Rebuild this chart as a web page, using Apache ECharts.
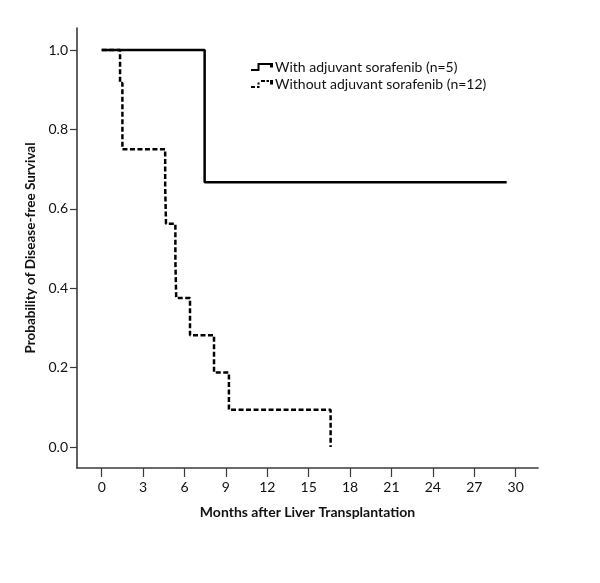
<!DOCTYPE html>
<html>
<head>
<meta charset="utf-8">
<script src="https://cdn.jsdelivr.net/npm/echarts@6/dist/echarts.min.js"></script>
<style>
html,body{margin:0;padding:0;background:#fff;}
#chart{width:600px;height:583px;}
</style>
</head>
<body>
<div id="chart"></div>
<script>
// Data
const seriesNames = ['With adjuvant sorafenib (n=5)', 'Without adjuvant sorafenib (n=12)'];
const withMonths = [0, 7.46, 29.35];
const withSurvival = [1.0, 0.6667, 0.6667];
const withoutMonths = [0, 1.33, 1.50, 4.60, 4.66, 5.34, 5.40, 6.40, 8.14, 9.22, 16.59];
const withoutSurvival = [1.0, 0.9167, 0.75, 0.65625, 0.5625, 0.46875, 0.375, 0.28125, 0.1875, 0.09375, 0.0];
const xTicks = [0, 3, 6, 9, 12, 15, 18, 21, 24, 27, 30];
const yTicks = [0, 0.2, 0.4, 0.6, 0.8, 1.0];
const xTitle = 'Months after Liver Transplantation';
const yTitle = 'Probability of Disease-free Survival';

const pair = (xs, ys) => xs.map((x, i) => [x, ys[i]]);
const FONT = 'Lato';
const axisColor = '#3a3a3a';

const iconSolid = 'path://M0,6L8,6L8,8L0,8Z M6.5,0L8.5,0L8.5,8L6.5,8Z M6.5,0L20,0L20,2L6.5,2Z M19,0L22,0L22,4.5L19,4.5Z';
const iconDash = 'path://M0,6L4,6L4,8L0,8Z M6,6L8.5,6L8.5,8L6,8Z M6.5,2.5L8.5,2.5L8.5,4.5L6.5,4.5Z M10,0L14,0L14,2L10,2Z M15.5,0L18,0L18,2L15.5,2Z M19,0L22,0L22,4.5L19,4.5Z';

const chart = echarts.init(document.getElementById('chart'), null, {renderer: 'canvas'});
chart.setOption({
  animation: false,
  backgroundColor: '#fff',
  grid: {left: 77, top: 28, width: 461, height: 440, containLabel: false},
  legend: {
    orient: 'vertical',
    left: 251,
    top: 60,
    padding: 0,
    itemWidth: 22,
    itemHeight: 8,
    itemGap: 3,
    selectedMode: false,
    itemStyle: {borderWidth: 0},
    textStyle: {fontFamily: FONT, fontSize: 14, lineHeight: 14, color: '#111', padding: [0, 0, 0, -3]},
    data: [
      {name: seriesNames[0], icon: iconSolid},
      {name: seriesNames[1], icon: iconDash}
    ]
  },
  xAxis: {
    type: 'value',
    min: -1.79,
    max: 31.62,
    name: xTitle,
    nameLocation: 'middle',
    nameGap: 37,
    nameTextStyle: {fontFamily: FONT, fontSize: 14, fontWeight: 'bold', color: '#111'},
    axisLine: {show: true, onZero: false, lineStyle: {color: axisColor, width: 1.6}},
    axisTick: {show: true, length: 9, customValues: xTicks, lineStyle: {color: axisColor, width: 1.2}},
    axisLabel: {customValues: xTicks, margin: 12, fontFamily: FONT, fontSize: 14, color: '#111'},
    splitLine: {show: false}
  },
  yAxis: {
    type: 'value',
    min: -0.0529,
    max: 1.0554,
    name: yTitle,
    nameLocation: 'middle',
    nameRotate: 90,
    nameGap: 34,
    nameTextStyle: {fontFamily: FONT, fontSize: 13.5, fontWeight: 'bold', color: '#111'},
    axisLine: {show: true, onZero: false, lineStyle: {color: axisColor, width: 1.6}},
    axisTick: {show: true, length: 7, customValues: yTicks, lineStyle: {color: axisColor, width: 1.2}},
    axisLabel: {customValues: yTicks, margin: 9, fontFamily: FONT, fontSize: 14, color: '#111',
      formatter: v => v.toFixed(1)},
    splitLine: {show: false}
  },
  series: [
    {
      name: seriesNames[0],
      type: 'line',
      step: 'end',
      showSymbol: false,
      data: pair(withMonths, withSurvival),
      itemStyle: {color: '#000'},
      lineStyle: {color: '#000', width: 2.5, type: 'solid'},
      z: 3
    },
    {
      name: seriesNames[1],
      type: 'line',
      step: 'end',
      showSymbol: false,
      data: pair(withoutMonths, withoutSurvival),
      itemStyle: {color: '#000'},
      lineStyle: {color: '#000', width: 2.5, type: [5, 2.5]},
      z: 2
    }
  ]
});
</script>
</body>
</html>
